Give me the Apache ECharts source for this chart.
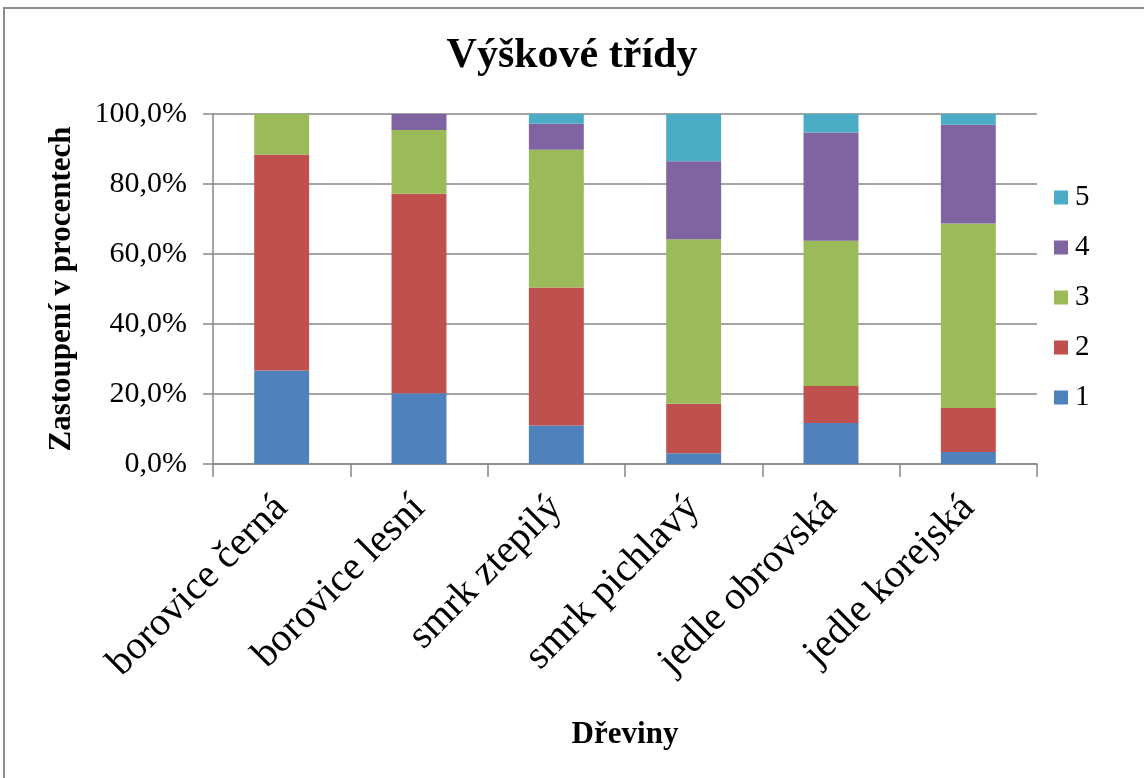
<!DOCTYPE html>
<html>
<head>
<meta charset="utf-8">
<title>Výškové třídy</title>
<script src="https://cdn.jsdelivr.net/npm/echarts@6/dist/echarts.min.js"></script>
<style>
  html, body { margin: 0; padding: 0; background: #fff; }
  #chart { width: 1144px; height: 778px; }
</style>
</head>
<body>
<div id="chart"></div>
<script>
// Tree species on the x axis
const categories = ['borovice černá', 'borovice lesní', 'smrk ztepilý', 'smrk pichlavý', 'jedle obrovská', 'jedle korejská'];

// Share (%) of each height class per species
const class1 = [26.7, 20.2, 11.0, 3.1, 11.7, 3.4];
const class2 = [61.7, 57.0, 39.4, 14.1, 10.6, 12.6];
const class3 = [11.6, 18.2, 39.4, 47.0, 41.5, 52.7];
const class4 = [0.0, 4.6, 7.4, 22.3, 30.9, 28.2];
const class5 = [0.0, 0.0, 2.8, 13.5, 5.3, 3.1];

const classNames = ['1', '2', '3', '4', '5'];
const yTicks = [0, 20, 40, 60, 80, 100];

const serif = '"Liberation Serif", "Times New Roman", serif';
const colors = ['#4F81BD', '#C0504D', '#9BBB59', '#8064A2', '#4BACC6'];
const values = [class1, class2, class3, class4, class5];

const series = classNames.map((name, i) => ({
  name: name,
  type: 'bar',
  stack: 'total',
  barWidth: '40%',
  data: values[i],
  itemStyle: { color: colors[i] }
}));

const chart = echarts.init(document.getElementById('chart'), null, { renderer: 'canvas' });
chart.setOption({
  animation: false,
  color: colors,
  title: {
    text: 'Výškové třídy',
    left: 'center',
    top: 30,
    textStyle: { fontFamily: serif, fontSize: 42, fontWeight: 'bold', color: '#000' }
  },
  graphic: [{
    type: 'rect',
    shape: { x: 4, y: 8, width: 1160, height: 790 },
    style: { fill: 'none', stroke: '#8c8c8c', lineWidth: 2 },
    silent: true
  }],
  legend: {
    orient: 'vertical',
    left: 1049,
    top: 178,
    itemGap: 21,
    itemWidth: 14,
    itemHeight: 14,
    icon: 'rect',
    data: ['5', '4', '3', '2', '1'],
    textStyle: { fontFamily: serif, fontSize: 29, color: '#000', padding: [0, 0, 0, 2] }
  },
  grid: { left: 213, right: 107, top: 114, bottom: 314, containLabel: false },
  xAxis: {
    type: 'category',
    data: categories,
    name: 'Dřeviny',
    nameLocation: 'middle',
    nameGap: 255,
    nameTextStyle: { fontFamily: serif, fontSize: 31, fontWeight: 'bold', color: '#000' },
    axisLine: { lineStyle: { color: '#868686', width: 1.5 } },
    axisTick: { show: true, inside: false, length: 13, alignWithLabel: false, lineStyle: { color: '#868686', width: 1.5 } },
    axisLabel: {
      rotate: 45,
      margin: 38,
      interval: 0,
      fontFamily: serif,
      fontSize: 40,
      color: '#000'
    }
  },
  yAxis: {
    type: 'value',
    min: 0,
    max: 100,
    interval: 20,
    name: 'Zastoupení v procentech',
    nameLocation: 'middle',
    nameGap: 136,
    nameTextStyle: { fontFamily: serif, fontSize: 31, fontWeight: 'bold', color: '#000' },
    axisLine: { show: true, lineStyle: { color: '#868686', width: 1.5 } },
    axisTick: { show: true, inside: false, length: 10, lineStyle: { color: '#868686', width: 1.5 } },
    splitLine: { show: true, lineStyle: { color: '#868686', width: 1.5 } },
    axisLabel: {
      margin: 26,
      fontFamily: serif,
      fontSize: 30,
      color: '#000',
      customValues: yTicks,
      formatter: v => v.toFixed(1).replace('.', ',') + '%'
    }
  },
  series: series
});
</script>
</body>
</html>
